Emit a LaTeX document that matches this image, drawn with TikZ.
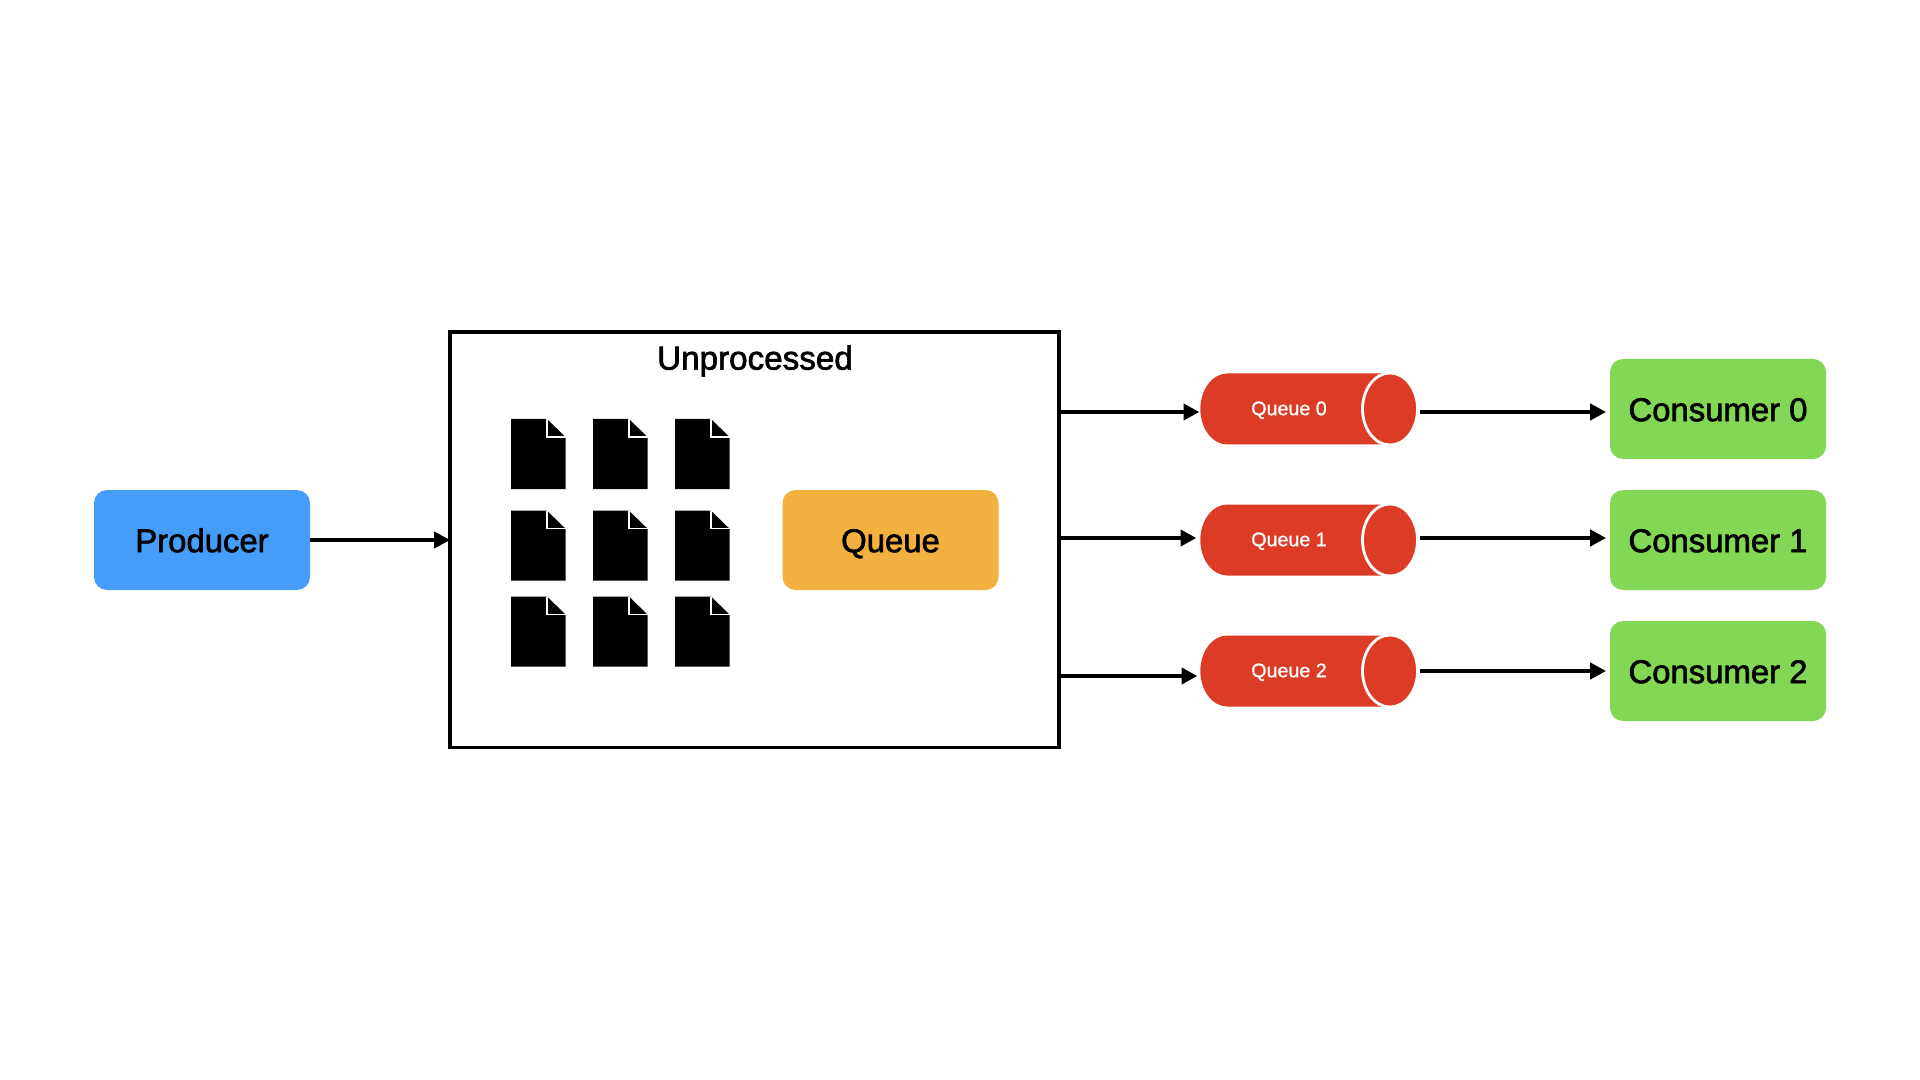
\documentclass[tikz,border=0pt]{standalone}
\usepackage{fontspec}
\setmainfont{Liberation Sans}
\newfontfamily\labelfont[FakeBold=2]{Liberation Sans}
\newfontfamily\pipefont[FakeBold=1]{Liberation Sans}
\usetikzlibrary{arrows.meta}
\usetikzlibrary{shapes.geometric}
\definecolor{prodblue}{HTML}{469DF7}
\definecolor{queueorange}{HTML}{F2B13E}
\definecolor{consgreen}{HTML}{82D855}
\definecolor{pipered}{HTML}{DC3B26}
\begin{document}
\begin{tikzpicture}[>={Triangle[length=4.5pt,width=4.6pt]},
    flow/.style = {->, line width=1pt},
    main/.style = {rounded corners=0.13cm, inner sep=0pt, outer sep=0pt, minimum width=2.16cm, minimum height=1cm, text height=6.9pt, text depth=0pt, font=\labelfont\fontsize{9.35pt}{11pt}\selectfont},
    pipe/.style = {cylinder, aspect=0.76, fill=pipered, draw=none, inner sep=0pt, outer sep=0pt, text height=0.71cm, text depth=0pt, minimum height=2.17cm},
    pipecap/.style = {ellipse, fill=pipered, draw=white, line width=0.8pt, inner sep=0pt, outer sep=0pt, minimum width=0.55cm, minimum height=0.72cm},
    pipetext/.style = {text=white, inner sep=0pt, font=\pipefont\fontsize{5.6pt}{7pt}\selectfont},
    doc/.pic = {
        \fill[black] (0,0) -- (0.36,0) -- (0.545,-0.18) -- (0.545,-0.7) -- (0,-0.7) -- cycle;
        \draw[white, line width=0.4pt] (0.36,0) -- (0.36,-0.18) -- (0.545,-0.18);
    }]
    \useasboundingbox (0,0) rectangle (19.2,-10.8);

    % Nodes
    \node[main, fill=prodblue] (producer) at (2.02,-5.40) {Producer};
    \node[draw, line width=1.05pt, inner sep=0pt, outer sep=0pt, minimum width=6.09cm, minimum height=4.155cm] (unprocessed) at (7.545,-5.398) {};
    \node[inner sep=0pt, font=\labelfont\fontsize{9.45pt}{11pt}\selectfont] (title) at (7.55,-3.61) {Unprocessed};
    \node[main, fill=queueorange] (queue) at (8.905,-5.40) {Queue};

    % Files
    \foreach \y in {-4.19,-5.107,-5.965}
        \foreach \x in {5.11,5.93,6.75}
            \pic at (\x,\y) {doc};

    % Queues and consumers
    \foreach \i/\y in {0/-4.09, 1/-5.40, 2/-6.71} {
        \node[pipe] (pipe\i) at (12.95,\y) {};
        \node[pipecap] (cap\i) at (13.90,\y) {};
        \node[pipetext] (label\i) at (12.89,\y-0.012) {Queue \i};
    }
    \node[main, fill=consgreen] (cons0) at (17.18,-4.09) {Consumer 0};
    \node[main, fill=consgreen] (cons1) at (17.18,-5.40) {Consumer 1};
    \node[main, fill=consgreen] (cons2) at (17.18,-6.71) {Consumer 2};

    % Edges
    \coordinate (row0) at (0,-4.12);
    \coordinate (row1) at (0,-5.38);
    \coordinate (row2) at (0,-6.76);
    \coordinate (rowb) at (0,-6.71);
    \draw[flow] (producer.east) -- (unprocessed.west |- producer.east);
    \draw[flow] (unprocessed.east |- row0) -- ([xshift=-0.01cm]pipe0.west |- row0);
    \draw[flow] (unprocessed.east |- row1) -- ([xshift=-0.04cm]pipe1.west |- row1);
    \draw[flow] (unprocessed.east |- row2) -- ([xshift=-0.03cm]pipe2.west |- row2);
    \draw[flow] ([xshift=0.02cm]cap0.east |- row0) -- ([xshift=-0.04cm]cons0.west |- row0);
    \draw[flow] ([xshift=0.02cm]cap1.east |- row1) -- ([xshift=-0.04cm]cons1.west |- row1);
    \draw[flow] ([xshift=0.02cm]cap2.east |- rowb) -- ([xshift=-0.04cm]cons2.west |- rowb);
\end{tikzpicture}
\end{document}
